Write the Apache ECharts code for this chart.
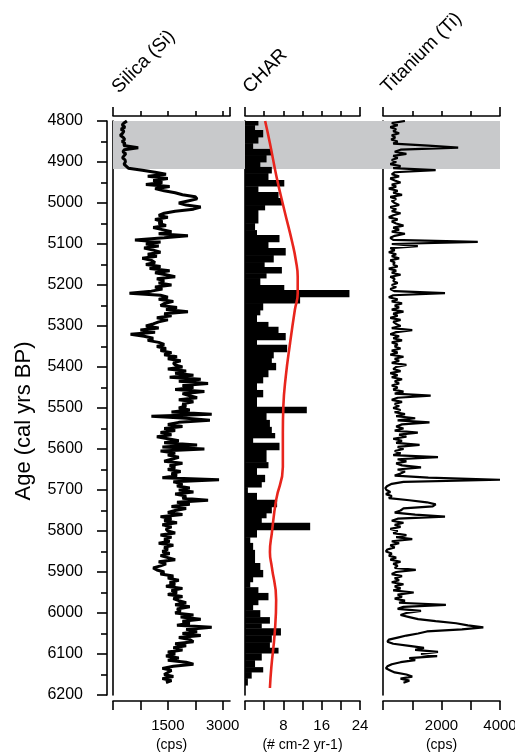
<!DOCTYPE html>
<html>
<head>
<meta charset="utf-8">
<script src="https://cdn.jsdelivr.net/npm/echarts@6/dist/echarts.min.js"></script>
<style>
html,body{margin:0;padding:0;background:#fff;}
#chart{width:515px;height:753px;}
</style>
</head>
<body>
<div id="chart"></div>
<script>
// ---- Data ----
const AGE_MIN = 4800, AGE_MAX = 6200;
const ageTicks = [4800,4900,5000,5100,5200,5300,5400,5500,5600,5700,5800,5900,6000,6100,6200];
const shadedInterval = [4800, 4917];

// Silica (Si), cps, sampled every 5 yr starting 4800
const siStart = 4800, siStep = 5;
const siValues = [
 380,300,250,330,220,300,260,200,280,320,
 250,330,290,690,310,270,350,300,260,330,
 340,300,360,420,800,1150,1450,950,1500,1100,
 1350,900,1550,1150,1400,1700,1900,2250,2300,2050,
 1800,2000,2400,2200,1700,1400,1250,1500,1150,1350,
 1250,1450,1100,1350,1600,1250,2050,1400,600,1300,
 900,1250,850,1100,1300,950,1200,800,1050,1150,
 900,1300,1000,1550,1150,1450,1700,1200,1400,1250,
 1600,1150,1350,1050,450,1300,1500,1250,1650,1400,
 1300,1750,1450,2050,1400,1600,1200,1500,1250,1100,
 900,1250,750,1150,480,850,1100,950,1250,1400,
 1200,1450,1300,1600,1400,1750,1500,1850,1650,1700,
 1900,1500,2000,1700,2200,1550,2400,1800,2600,1900,
 2200,1700,2500,1900,2100,2300,1800,2200,1900,2000,
 1800,2100,1600,2700,1050,2000,2650,1800,1500,1900,
 1400,1700,1300,1600,1200,1500,1800,1400,2300,1350,
 2500,1300,1700,1500,1800,1600,1400,1900,1550,1700,
 1500,1850,1600,1750,1350,2900,1650,1900,1750,2100,
 1800,2200,1700,2000,1900,2600,1750,2100,1600,2000,
 1700,1500,1900,1300,1600,1400,1750,1350,1600,1450,
 1500,1700,1300,1600,1400,1550,1250,1650,1400,1500,
 1350,1550,1300,1500,1700,1250,1450,1300,1100,1200,
 1400,1300,1650,1500,1800,1550,1700,1450,1900,1600,
 1750,1500,1900,1650,1800,2000,1700,2100,1750,1850,
 1700,2200,1850,2400,1900,2100,1750,2700,2000,2300,
 1900,2400,1800,2100,2200,1700,2000,1650,1900,1500,
 1700,1450,1800,1500,2000,2200,1650,1350,1600,1500,
 1400,1650,1350,1600,1450
];

// CHAR histogram: top edge of each interval (age), value (# cm-2 yr-1)
const charEdges = [4800,4810,4822,4839,4854,4868,4883,4900,4912,4927,4944,4959,4973,4988,5005,5017,5049,5066,5078,5095,
 5110,5127,5144,5156,5171,5183,5200,5212,5229,5244,5261,5273,5290,5302,5317,5334,5346,5363,5378,5390,
 5407,5424,5439,5456,5473,5497,5512,5529,5546,5561,5573,5585,5602,5632,5646,5663,5680,5693,5707,5724,
 5741,5756,5768,5780,5797,5815,5829,5846,5863,5878,5895,5912,5924,5937,5951,5968,5980,5993,6010,6025,
 6037,6054,6071,6085,6098,6115,6132,6144,6159,6176];
const charValues = [2.8,2.1,3.8,2.8,1.7,5.6,4.5,3.2,5.6,4.9,8.2,2.8,7.0,7.7,4.2,2.8,2.1,2.5,7.2,4.9,
 8.5,6.0,4.1,7.7,4.5,3.2,8.2,21.8,11.5,3.8,3.2,2.5,4.9,7.0,8.5,2.5,8.8,6.0,5.6,6.5,
 4.9,3.8,2.5,3.8,2.5,12.9,4.5,5.2,5.6,6.3,1.7,7.2,4.5,4.9,2.5,4.2,3.5,0.6,2.5,6.7,
 5.6,4.5,3.5,13.6,2.5,1.1,1.7,2.1,2.1,3.2,3.8,1.7,1.1,2.8,4.9,2.8,1.7,3.2,5.2,3.5,
 7.5,5.6,5.2,7.0,3.5,2.1,3.8,1.4,0.6];

// CHAR background (red smoothed curve)
const bgAges   = [4800,4854,4937,5017,5098,5139,5180,5220,5261,5342,5424,5497,5561,5644,5724,5805,5851,5888,5968,6049,6132,6183];
const bgValues = [4.2,5.2,6.6,8.2,9.9,10.6,11.0,11.0,10.4,9.4,8.5,8.0,7.9,7.9,6.5,5.6,5.2,5.6,6.5,6.2,5.5,5.2];

// Titanium (Ti), cps, sampled every 5 yr starting 4800
const tiStart = 4800, tiStep = 5;
const tiValues = [
 750,300,500,250,450,350,550,300,420,280,
 500,350,1550,2570,600,400,800,350,500,300,
 450,250,600,350,1800,400,300,550,250,400,
 600,300,450,200,500,350,650,250,450,300,
 400,550,250,450,300,600,350,200,500,300,
 450,700,350,550,300,750,400,250,350,3240,
 300,1190,250,400,200,450,300,550,250,400,
 350,500,200,450,300,600,250,400,350,500,
 300,450,250,400,2120,350,200,500,300,650,
 400,550,300,700,350,500,250,600,350,450,
 600,300,1000,450,250,550,350,650,300,500,
 400,600,300,500,250,700,400,550,300,800,
 450,350,600,250,500,300,650,400,550,300,
 500,350,700,400,1630,500,300,650,400,550,
 350,600,400,750,450,1100,500,1590,650,450,
 700,400,1190,550,800,350,650,450,1250,500,
 700,400,600,350,1880,500,800,450,650,1300,
 500,750,600,400,1550,4000,700,300,150,80,
 120,250,100,300,200,900,1500,1800,1700,700,
 600,400,1100,2120,500,300,700,400,600,250,
 500,350,800,450,1000,300,550,250,400,150,
 100,300,200,450,250,600,350,500,400,1120,
 450,300,650,400,550,300,700,400,600,350,
 1050,500,650,400,750,550,2150,700,500,1300,
 800,600,900,1200,1800,2500,2900,3430,2700,1500,
 1200,800,500,200,150,350,900,1400,1100,1880,
 1300,1850,900,1100,600,300,150,100,250,400,
 800,1000,600,900,700
];

// Axis settings
const siMax = 3200, siTicks = [0,750,1500,2250,3000], siLabels = [1500,3000];
const charMax = 24, charTicks = [0,4,8,12,16,20,24], charLabels = [8,16,24];
const tiMax = 4000, tiTicks = [0,1000,2000,3000,4000], tiLabels = [2000,4000];
const panelTitles = ['Silica (Si)', 'CHAR', 'Titanium (Ti)'];
const unitLabels = ['(cps)', '(# cm-2 yr-1)', '(cps)'];
const yTitle = 'Age (cal yrs BP)';

// ---- Build ----
const siData = siValues.map((v, i) => [v, siStart + i * siStep]);
const tiData = tiValues.map((v, i) => [v, tiStart + i * tiStep]);
const charData = charValues.map((v, i) => [charEdges[i], charEdges[i + 1], v]);
const bgData = bgValues.map((v, i) => [v, bgAges[i]]);

const FONT = '"Liberation Sans", Arial, sans-serif';
const BLACK = '#000';
const lineW = 1.6;

const gridBase = {top: 121, height: 574, containLabel: false, outerBoundsMode: 'none'};
const grids = [
  Object.assign({left: 113, width: 117}, gridBase),
  Object.assign({left: 245, width: 115}, gridBase),
  Object.assign({left: 383, width: 117}, gridBase),
  Object.assign({left: 113, width: 387}, gridBase)
];

function bottomAxis(gi, max, ticks, labels, unit) {
  return {
    type: 'value', gridIndex: gi, min: 0, max: max, position: 'bottom', offset: 6,
    axisLine: {show: true, onZero: false, lineStyle: {color: BLACK, width: lineW}},
    axisTick: {show: true, inside: false, length: 9, customValues: ticks, lineStyle: {color: BLACK, width: lineW}},
    axisLabel: {show: true, customValues: labels, formatter: v => String(v), color: BLACK, fontSize: 15, fontFamily: FONT, margin: 17},
    splitLine: {show: false},
    name: unit, nameLocation: 'middle', nameGap: 37,
    nameTextStyle: {color: BLACK, fontSize: 14, fontFamily: FONT}
  };
}
function topAxisEnds(gi, max) {
  return {
    type: 'value', gridIndex: gi, min: 0, max: max, position: 'top', offset: 5,
    axisLine: {show: true, onZero: false, lineStyle: {color: BLACK, width: lineW}},
    axisTick: {show: true, inside: false, length: 9, customValues: [0, max], lineStyle: {color: BLACK, width: lineW}},
    axisLabel: {show: false}, splitLine: {show: false}
  };
}
function topAxisInner(gi, max, ticks) {
  return {
    type: 'value', gridIndex: gi, min: 0, max: max, position: 'top', offset: 5,
    axisLine: {show: false},
    axisTick: {show: true, inside: false, length: 5, customValues: ticks.filter(t => t > 0 && t < max), lineStyle: {color: BLACK, width: lineW}},
    axisLabel: {show: false}, splitLine: {show: false}
  };
}
function panelY(gi) {
  return {
    type: 'value', gridIndex: gi, inverse: true, min: AGE_MIN, max: AGE_MAX, position: 'left',
    axisLine: {show: true, onZero: false, lineStyle: {color: BLACK, width: lineW}},
    axisTick: {show: false}, axisLabel: {show: false}, splitLine: {show: false}
  };
}
function title(text, x, y) {
  return {type: 'text', x: x, y: y, rotation: Math.PI / 4,
    style: {text: text, fill: BLACK, fontSize: 19, fontFamily: FONT, align: 'left', verticalAlign: 'bottom'}};
}

const option = {
  animation: false,
  backgroundColor: '#fff',
  grid: grids,
  xAxis: [
    bottomAxis(0, siMax, siTicks, siLabels, unitLabels[0]),
    topAxisEnds(0, siMax), topAxisInner(0, siMax, siTicks),
    bottomAxis(1, charMax, charTicks, charLabels, unitLabels[1]),
    topAxisEnds(1, charMax), topAxisInner(1, charMax, charTicks),
    bottomAxis(2, tiMax, tiTicks, tiLabels, unitLabels[2]),
    topAxisEnds(2, tiMax), topAxisInner(2, tiMax, tiTicks),
    {type: 'value', gridIndex: 3, min: 0, max: 1, show: false}
  ],
  yAxis: [
    {
      type: 'value', gridIndex: 0, inverse: true, min: AGE_MIN, max: AGE_MAX, interval: 100,
      position: 'left', offset: 6,
      axisLine: {show: true, onZero: false, lineStyle: {color: BLACK, width: lineW}},
      axisTick: {show: true, inside: false, length: 10, lineStyle: {color: BLACK, width: lineW}},
      minorTick: {show: true, splitNumber: 2, length: 6, lineStyle: {color: BLACK, width: lineW}},
      axisLabel: {show: true, customValues: ageTicks, formatter: v => String(v), color: BLACK, fontSize: 16, fontFamily: FONT, margin: 24},
      splitLine: {show: false}, minorSplitLine: {show: false}
    },
    panelY(0), panelY(1), panelY(2),
    {type: 'value', gridIndex: 3, inverse: true, min: AGE_MIN, max: AGE_MAX, show: false}
  ],
  graphic: [
    title(panelTitles[0], 122, 97),
    title(panelTitles[1], 253, 97),
    title(panelTitles[2], 391, 97),
    {type: 'text', x: 24, y: 421, rotation: Math.PI / 2,
     style: {text: yTitle, fill: BLACK, fontSize: 22, fontFamily: FONT, align: 'center', verticalAlign: 'middle'}}
  ],
  series: [
    {
      type: 'line', xAxisIndex: 9, yAxisIndex: 4, data: [], silent: true, z: 0,
      markArea: {silent: true, itemStyle: {color: '#c8c9cb'},
        data: [[{yAxis: shadedInterval[0]}, {yAxis: shadedInterval[1]}]]}
    },
    {
      type: 'line', xAxisIndex: 0, yAxisIndex: 1, data: siData, showSymbol: false, z: 3,
      lineStyle: {color: BLACK, width: 3.0, join: 'bevel'}, clip: true
    },
    {
      type: 'custom', xAxisIndex: 3, yAxisIndex: 2, data: charData, z: 3,
      encode: {x: [2], y: [0, 1]},
      renderItem: function (params, api) {
        const p0 = api.coord([0, api.value(0)]);
        const p1 = api.coord([api.value(2), api.value(1)]);
        return {type: 'rect', shape: {x: p0[0], y: p0[1], width: p1[0] - p0[0], height: p1[1] - p0[1] + 0.4},
          style: {fill: BLACK}};
      }
    },
    {
      type: 'line', xAxisIndex: 3, yAxisIndex: 2, data: bgData, showSymbol: false, smooth: 0.5, z: 4,
      lineStyle: {color: '#e8251d', width: 2.6}
    },
    {
      type: 'line', xAxisIndex: 6, yAxisIndex: 3, data: tiData, showSymbol: false, z: 3,
      lineStyle: {color: BLACK, width: 2.2, join: 'bevel'}, clip: true
    }
  ]
};

const chart = echarts.init(document.getElementById('chart'), null, {renderer: 'canvas'});
chart.setOption(option);
</script>
</body>
</html>
